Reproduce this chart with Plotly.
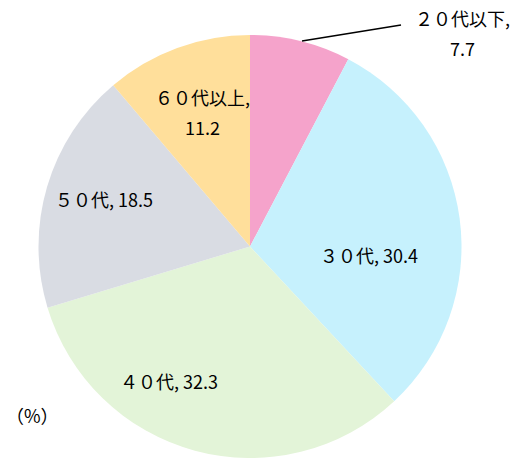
import plotly.graph_objects as go

categories = ["２０代以下", "３０代", "４０代", "５０代", "６０代以上"]
values = [7.7, 30.4, 32.3, 18.5, 11.2]
colors = ["#F5A3CB", "#C6F1FD", "#E3F4D8", "#D9DCE3", "#FFDF9B"]

W, H = 518, 459

def px(x):
    return x / W

def py(y):
    return 1 - y / H

fig = go.Figure(go.Pie(
    labels=categories,
    values=values,
    sort=False,
    direction="clockwise",
    rotation=0,
    marker=dict(colors=colors, line=dict(width=0)),
    textinfo="none",
    hoverinfo="label+value",
    showlegend=False,
    domain=dict(x=[px(38), px(462)], y=[py(458), py(35)]),
))

font = dict(family="Noto Sans CJK JP, sans-serif", size=18, color="#000000")

# label positions: (center x, first line y, second line y or None)
label_pos = [
    (462, 18, 48),
    (369, 255, None),
    (169, 381, None),
    (104, 199, None),
    (202, 97, 127),
]
annotations = []
for (cx, y1, y2), c, v in zip(label_pos, categories, values):
    if y2 is None:
        lines = [(y1, "{}, {}".format(c, v))]
    else:
        lines = [(y1, "{},".format(c)), (y2, "{}".format(v))]
    for yy, t in lines:
        annotations.append(dict(
            x=px(cx), y=py(yy), xref="paper", yref="paper",
            text=t, showarrow=False, font=font,
            align="center", xanchor="center", yanchor="middle",
        ))
annotations.append(dict(
    x=px(32), y=py(415), xref="paper", yref="paper", text="（%）",
    showarrow=False, font=font, xanchor="center", yanchor="middle",
))

fig.update_layout(
    width=W, height=H,
    margin=dict(l=0, r=0, t=0, b=0),
    paper_bgcolor="white", plot_bgcolor="white",
    annotations=annotations,
    shapes=[dict(type="line", xref="paper", yref="paper",
                 x0=px(302), y0=py(41), x1=px(401), y1=py(25),
                 line=dict(color="black", width=1.5))],
)

fig.write_html("out.html",
               config=dict(displayModeBar=False),
               post_script="document.body.style.margin='0';document.body.style.overflow='hidden';")
